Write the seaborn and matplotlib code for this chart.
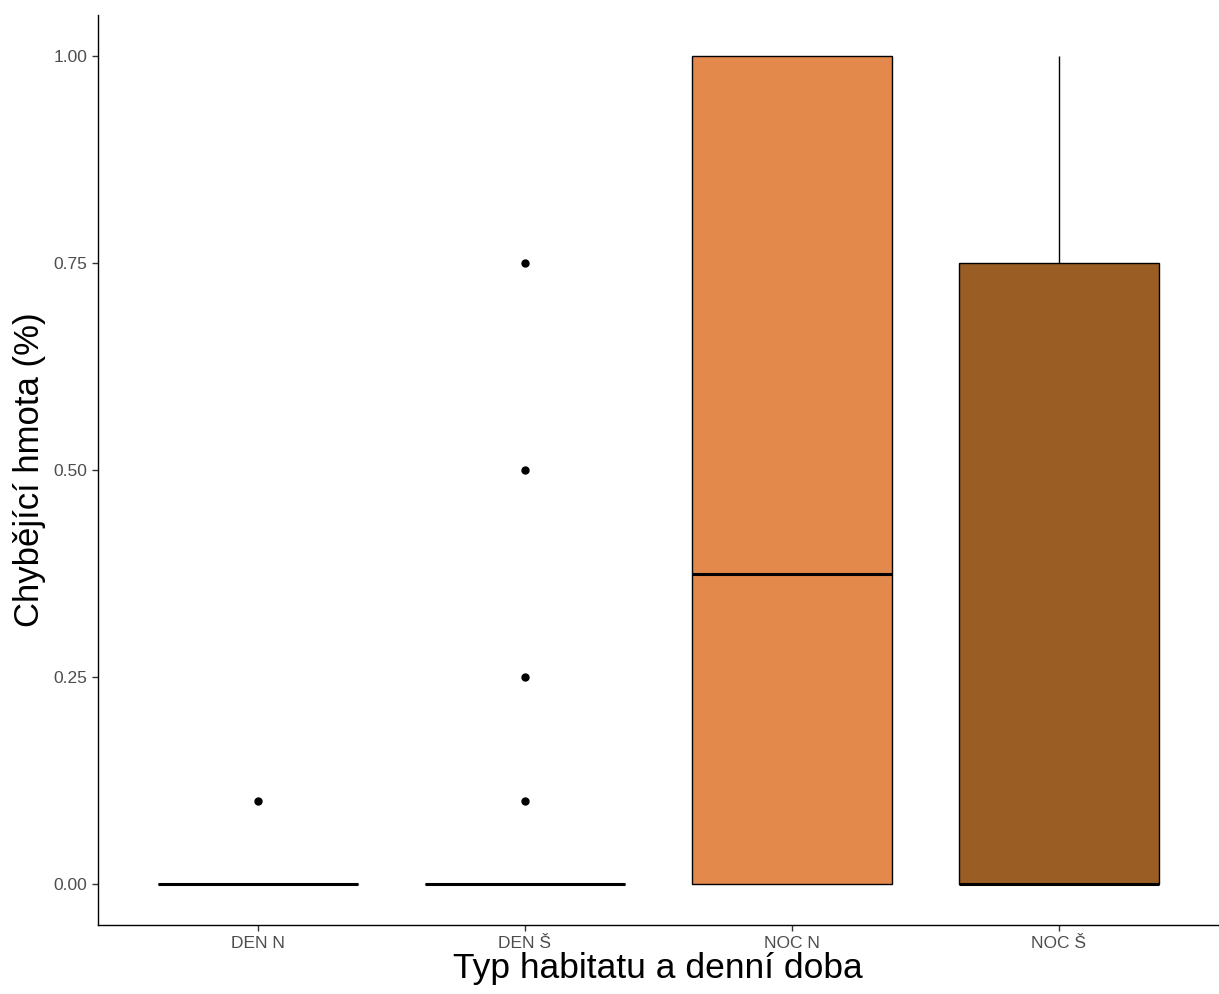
import pandas as pd
import seaborn as sns
import matplotlib.pyplot as plt

# hodnoty odhadnuté z grafu
den_n = [0.0] * 14 + [0.1]
den_s = [0.0] * 16 + [0.1, 0.25, 0.5, 0.75]
noc_n = [0.0, 0.0, 0.0, 0.25, 0.5, 1.0, 1.0, 1.0]
noc_s = [0.0, 0.0, 0.0, 0.0, 0.75, 0.75, 1.0]

kategorie = ["DEN N", "DEN Š", "NOC N", "NOC Š"]
barvy = ["#F2B27A", "#C07A3A", "#E2894B", "#9A5E25"]

dataset = pd.DataFrame({
    "skupina": ["DEN N"] * len(den_n) + ["DEN Š"] * len(den_s)
               + ["NOC N"] * len(noc_n) + ["NOC Š"] * len(noc_s),
    "hmota": den_n + den_s + noc_n + noc_s,
})

sns.set_style("ticks")
plt.rcParams['font.family'] = ['Liberation Sans', 'DejaVu Sans']

fig = plt.figure(figsize=(12.19, 9.94), dpi=100)
ax = fig.add_axes([0.080, 0.069, 0.92, 0.916])

sns.boxplot(data=dataset, x="skupina", y="hmota", hue="skupina", order=kategorie,
            palette=dict(zip(kategorie, barvy)), width=0.75, whis=1.5, legend=False,
            linecolor="black", linewidth=1.0, saturation=1,
            medianprops={"linewidth": 2.2, "color": "black"},
            flierprops={"marker": "o", "markersize": 5, "markerfacecolor": "black",
                        "markeredgecolor": "black"},
            showcaps=False, ax=ax)

ax.set_xlim(-0.6, 3.6)
ax.set_ylim(-0.05, 1.05)
ax.set_yticks([0, 0.25, 0.5, 0.75, 1.0])
ax.set_yticklabels(["0.00", "0.25", "0.50", "0.75", "1.00"])
ax.tick_params(axis="both", labelsize=12.5, labelcolor="#4D4D4D", color="#333333",
               length=4, width=1)
ax.set_xlabel("Typ habitatu a denní doba", fontsize=25.5, color="black", labelpad=1)
ax.set_ylabel("Chybějící hmota (%)", fontsize=25, color="black", labelpad=5)
for side in ["top", "right"]:
    ax.spines[side].set_visible(False)
for side in ["left", "bottom"]:
    ax.spines[side].set_color("black")
    ax.spines[side].set_linewidth(1.0)

fig.savefig("out.png", dpi=100)
